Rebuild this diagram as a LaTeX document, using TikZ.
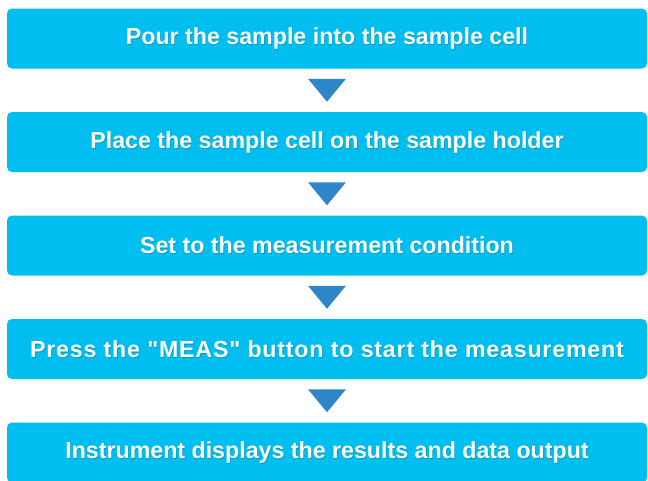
\documentclass[tikz,border=0pt]{standalone}
\usepackage{fontspec}
\setmainfont{Liberation Sans}[Ligatures=TeXOff]
\usetikzlibrary{calc}
\definecolor{boxcyan}{RGB}{0,190,240}
\definecolor{arrowblue}{RGB}{46,134,200}
\tikzset{
  stepbox/.style={fill=boxcyan, draw=none, rounded corners=5pt, minimum width=640pt, minimum height=60pt, inner sep=0pt},
  steptext/.style={text=white, font=\fontsize{23.2pt}{28pt}\selectfont\bfseries, inner sep=0pt},
  shadowtext/.style={text=black, opacity=0.2, font=\fontsize{23.2pt}{28pt}\selectfont\bfseries, inner sep=0pt},
  downarrow/.style={fill=arrowblue, draw=none}
}
\begin{document}
\begin{tikzpicture}[x=1pt,y=-1pt]
\useasboundingbox (0,0) rectangle (648,480);
\clip (0,0) rectangle (648,480);
\node[stepbox] (b1) at (327,38.5) {};
\node[stepbox] (b2) at (327,142) {};
\node[stepbox] (b3) at (327,245.5) {};
\node[stepbox] (b4) at (327,349) {};
\node[stepbox] (b5) at (327,452.5) {};
\foreach \n/\t in {b1/{Pour the sample into the sample cell},
                   b2/{Place the sample cell on the sample holder},
                   b3/{Set to the measurement condition},
                   b4/{\addfontfeature{LetterSpace=3.4}Press the "MEAS" button to start the measurement},
                   b5/{Instrument displays the results and data output}}{
  \node[shadowtext] at ($(\n.center)+(0.6,1.2)$) {\t};
  \node[steptext] (\n t) at (\n.center) {\t};
}
\foreach \a/\b in {b1/b2,b2/b3,b3/b4,b4/b5}{
  \coordinate (m) at ($(\a.south)!0.5!(\b.north)$);
  \fill[downarrow] ($(m)+(-19,-11.5)$) -- ($(m)+(19,-11.5)$) -- ($(m)+(0,11.5)$) -- cycle;
}
\end{tikzpicture}
\end{document}
